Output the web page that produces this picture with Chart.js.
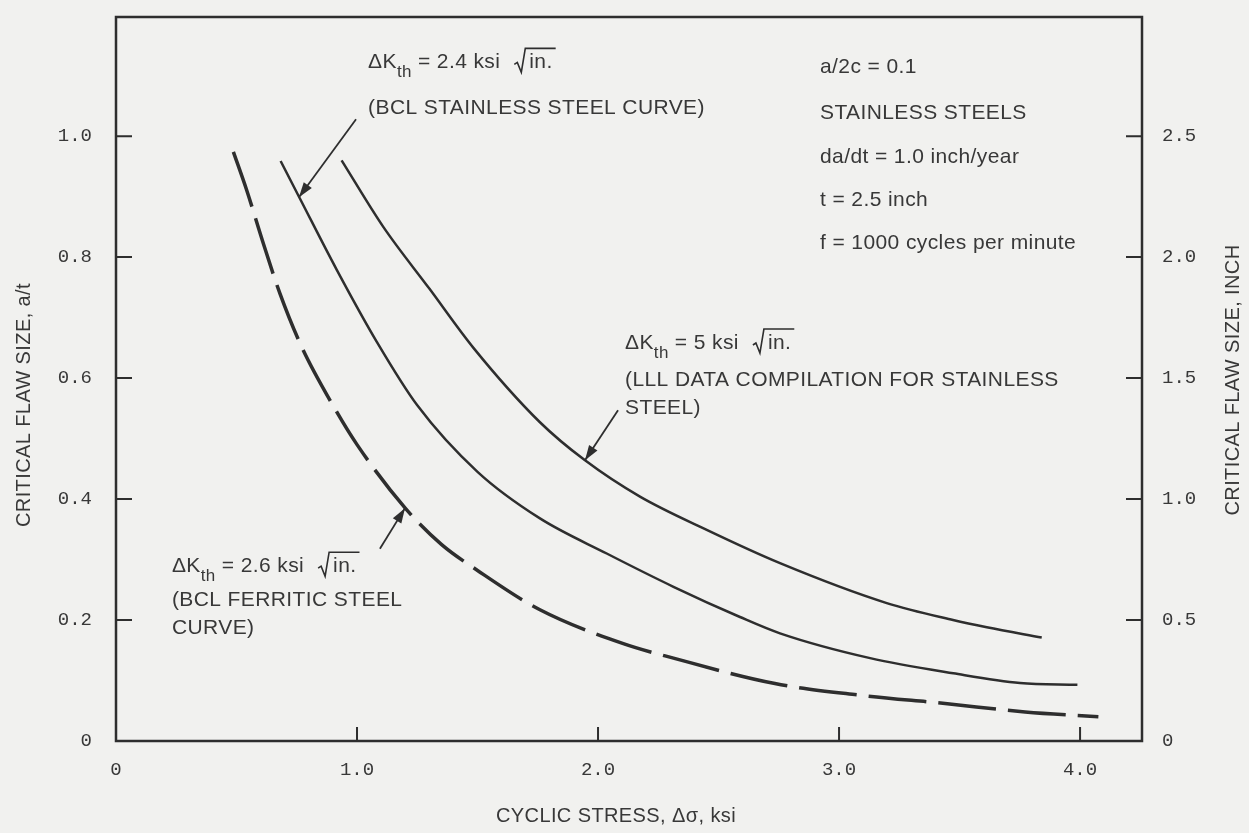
<!DOCTYPE html>
<html>
<head>
<meta charset="utf-8">
<script src="https://cdn.jsdelivr.net/npm/chart.js@4/dist/chart.umd.min.js"></script>
<style>
  html, body { margin: 0; padding: 0; background: #f1f1ef; overflow: hidden; }
  canvas { display: block; }
</style>
</head>
<body>
<canvas id="flawChart" width="1249" height="833"></canvas>
<script>
// values: cyclic stress (ksi) vs critical flaw size a/t
const stress5 = [0.936, 1.109, 1.30, 1.483, 1.759, 1.946, 2.174, 2.451, 2.755, 3.198, 3.473, 3.613, 3.841];
const flaw5   = [0.960, 0.850, 0.748, 0.650, 0.527, 0.464, 0.404, 0.349, 0.294, 0.228, 0.200, 0.188, 0.171];

const stress24 = [0.683, 0.763, 0.916, 1.082, 1.25, 1.5, 1.759, 2.036, 2.313, 2.589, 2.755, 3.129, 3.474, 3.751, 3.989];
const flaw24   = [0.959, 0.897, 0.779, 0.660, 0.555, 0.445, 0.368, 0.310, 0.255, 0.205, 0.178, 0.137, 0.112, 0.096, 0.093];

const stress26 = [0.487, 0.542, 0.611, 0.680, 0.770, 0.90, 1.0, 1.2, 1.35, 1.5, 1.759, 2.105, 2.313, 2.734, 3.080, 3.440, 3.772, 4.076];
const flaw26   = [0.974, 0.911, 0.823, 0.740, 0.652, 0.555, 0.490, 0.385, 0.325, 0.282, 0.217, 0.161, 0.137, 0.095, 0.076, 0.062, 0.048, 0.040];

const xTickValues = [0, 1, 2, 3, 4];
const xTickLabels = ["0", "1.0", "2.0", "3.0", "4.0"];
const yTickValues = [0, 0.2, 0.4, 0.6, 0.8, 1.0];
const yTickLabels = ["0", "0.2", "0.4", "0.6", "0.8", "1.0"];
const inchTickValues = [0, 0.5, 1.0, 1.5, 2.0, 2.5];
const inchTickLabels = ["0", "0.5", "1.0", "1.5", "2.0", "2.5"];

const thickness = 2.5; // inch, right axis = a/t * t
const xMax = 4.257;
const yMax = 1.197;

const INK = "#2e2e2e";
const TEXT = "#383838";
const FONT = "'Liberation Sans', Arial, sans-serif";
const TICKFONT = "'Liberation Mono', 'DejaVu Sans Mono', monospace";

// annotation placement, in data units (stress, a/t)
const paramLines = ["a/2c = 0.1", "STAINLESS STEELS", "da/dt = 1.0 inch/year", "t = 2.5 inch", "f = 1000 cycles per minute"];
const paramY = [1.114, 1.038, 0.965, 0.894, 0.823];
const notes = [
  { dk: "2.4", lines: ["(BCL STAINLESS STEEL CURVE)"], x: 1.046, y: [1.122, 1.046],
    arrow: [0.996, 1.028, 0.759, 0.899] },
  { dk: "5", lines: ["(LLL DATA COMPILATION FOR STAINLESS", "STEEL)"], x: 2.112, y: [0.658, 0.597, 0.550],
    arrow: [2.083, 0.547, 1.946, 0.464] },
  { dk: "2.6", lines: ["(BCL FERRITIC STEEL", "CURVE)"], x: 0.232, y: [0.289, 0.233, 0.187],
    arrow: [1.095, 0.318, 1.199, 0.385] }
];

const toPoints = (xs, ys) => xs.map((x, i) => ({ x: x, y: ys[i] }));

function arrow(ctx, x1, y1, x2, y2) {
  ctx.beginPath();
  ctx.moveTo(x1, y1);
  ctx.lineTo(x2, y2);
  ctx.stroke();
  const ang = Math.atan2(y2 - y1, x2 - x1), L = 15, W = 5;
  ctx.beginPath();
  ctx.moveTo(x2, y2);
  ctx.lineTo(x2 - L * Math.cos(ang) + W * Math.sin(ang), y2 - L * Math.sin(ang) - W * Math.cos(ang));
  ctx.lineTo(x2 - L * Math.cos(ang) - W * Math.sin(ang), y2 - L * Math.sin(ang) + W * Math.cos(ang));
  ctx.closePath();
  ctx.fill();
}

// "ΔKth = v ksi √in."
function deltaK(ctx, x, y, value) {
  ctx.font = "21px " + FONT;
  ctx.fillText("ΔK", x, y);
  x += ctx.measureText("ΔK").width;
  ctx.font = "17px " + FONT;
  ctx.fillText("th", x, y + 10);
  x += ctx.measureText("th").width + 6;
  ctx.font = "21px " + FONT;
  const s = "= " + value + " ksi";
  ctx.fillText(s, x, y);
  x += ctx.measureText(s).width + 14;
  const w = ctx.measureText("in.").width;
  ctx.lineWidth = 1.6;
  ctx.beginPath();
  ctx.moveTo(x, y + 2);
  ctx.lineTo(x + 3, y);
  ctx.lineTo(x + 7, y + 10);
  ctx.lineTo(x + 11, y - 14);
  ctx.lineTo(x + 18 + w, y - 14);
  ctx.stroke();
  ctx.fillText("in.", x + 15, y);
}

const decor = {
  id: "decor",
  afterDraw(chart) {
    const { ctx, chartArea: a, scales } = chart;
    const sx = scales.x, sy = scales.y, s2 = scales.y2;
    ctx.save();
    ctx.strokeStyle = INK;
    ctx.fillStyle = TEXT;
    ctx.lineWidth = 2.5;
    ctx.strokeRect(a.left, a.top, a.right - a.left, a.bottom - a.top);

    // inward tick marks
    ctx.lineWidth = 2;
    ctx.beginPath();
    xTickValues.slice(1).forEach(v => {
      const p = sx.getPixelForValue(v);
      ctx.moveTo(p, a.bottom); ctx.lineTo(p, a.bottom - 14);
    });
    yTickValues.slice(1).forEach(v => {
      const p = sy.getPixelForValue(v);
      ctx.moveTo(a.left, p); ctx.lineTo(a.left + 16, p);
    });
    inchTickValues.slice(1).forEach(v => {
      const p = s2.getPixelForValue(v);
      ctx.moveTo(a.right, p); ctx.lineTo(a.right - 16, p);
    });
    ctx.stroke();

    ctx.textBaseline = "middle";
    ctx.letterSpacing = "0.4px";

    // axis titles
    ctx.font = "20px " + FONT;
    ctx.textAlign = "center";
    ctx.fillText("CYCLIC STRESS, Δσ, ksi", 616, 816);
    ctx.save();
    ctx.translate(24, 405);
    ctx.rotate(-Math.PI / 2);
    ctx.fillText("CRITICAL FLAW SIZE, a/t", 0, 0);
    ctx.restore();
    ctx.save();
    ctx.translate(1233, 380);
    ctx.rotate(-Math.PI / 2);
    ctx.fillText("CRITICAL FLAW SIZE, INCH", 0, 0);
    ctx.restore();

    // parameter block
    ctx.textAlign = "left";
    ctx.font = "21px " + FONT;
    paramLines.forEach((t, i) => ctx.fillText(t, sx.getPixelForValue(2.921), sy.getPixelForValue(paramY[i])));

    // curve labels and arrows
    notes.forEach(n => {
      const px = sx.getPixelForValue(n.x);
      deltaK(ctx, px, sy.getPixelForValue(n.y[0]), n.dk);
      ctx.font = "21px " + FONT;
      n.lines.forEach((t, i) => ctx.fillText(t, px, sy.getPixelForValue(n.y[i + 1])));
      ctx.lineWidth = 1.8;
      ctx.fillStyle = INK;
      arrow(ctx, sx.getPixelForValue(n.arrow[0]), sy.getPixelForValue(n.arrow[1]),
                 sx.getPixelForValue(n.arrow[2]), sy.getPixelForValue(n.arrow[3]));
      ctx.fillStyle = TEXT;
    });
    ctx.restore();
  }
};

// keep the plot box where the figure has it: no label overflow padding
const noPad = s => { s.paddingTop = 0; s.paddingBottom = 0; s.paddingLeft = 0; s.paddingRight = 0; };

const lineStyle = {
  fill: false,
  pointRadius: 0,
  borderColor: INK,
  cubicInterpolationMode: "monotone",
  borderCapStyle: "butt"
};

new Chart(document.getElementById("flawChart"), {
  type: "line",
  data: {
    datasets: [
      Object.assign({ label: "ΔKth = 5 ksi √in.", data: toPoints(stress5, flaw5), borderWidth: 2.5 }, lineStyle),
      Object.assign({ label: "ΔKth = 2.4 ksi √in.", data: toPoints(stress24, flaw24), borderWidth: 2.5 }, lineStyle),
      Object.assign({ label: "ΔKth = 2.6 ksi √in.", data: toPoints(stress26, flaw26), borderWidth: 3.5, borderDash: [58, 12] }, lineStyle)
    ]
  },
  options: {
    responsive: false,
    devicePixelRatio: 1,
    animation: false,
    layout: { padding: { top: 17, left: 0, right: 0, bottom: 0 } },
    plugins: { legend: { display: false }, tooltip: { enabled: false } },
    scales: {
      x: {
        type: "linear",
        position: "bottom",
        min: 0,
        max: xMax,
        grid: { display: false, drawTicks: false },
        border: { display: false },
        afterBuildTicks: s => { s.ticks = xTickValues.map(v => ({ value: v })); },
        afterFit: s => { s.height = 92; noPad(s); },
        ticks: {
          padding: 18,
          maxRotation: 0,
          autoSkip: false,
          color: TEXT,
          font: { family: TICKFONT, size: 19 },
          callback: (v, i) => xTickLabels[i]
        }
      },
      y: {
        type: "linear",
        position: "left",
        min: 0,
        max: yMax,
        grid: { display: false, drawTicks: false },
        border: { display: false },
        afterBuildTicks: s => { s.ticks = yTickValues.map(v => ({ value: v })); },
        afterFit: s => { s.width = 116; noPad(s); },
        ticks: {
          padding: 24,
          color: TEXT,
          font: { family: TICKFONT, size: 19 },
          callback: (v, i) => yTickLabels[i]
        }
      },
      y2: {
        type: "linear",
        position: "right",
        min: 0,
        max: yMax * thickness,
        grid: { display: false, drawTicks: false },
        border: { display: false },
        afterBuildTicks: s => { s.ticks = inchTickValues.map(v => ({ value: v })); },
        afterFit: s => { s.width = 107; noPad(s); },
        ticks: {
          padding: 20,
          color: TEXT,
          font: { family: TICKFONT, size: 19 },
          callback: (v, i) => inchTickLabels[i]
        }
      }
    }
  },
  plugins: [decor]
});
</script>
</body>
</html>
